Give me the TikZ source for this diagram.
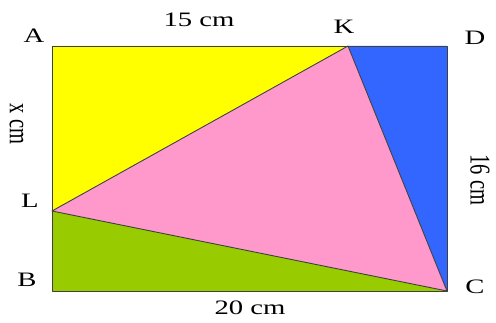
\documentclass[tikz,border=0pt]{standalone}
\usepackage{fontspec}
\setmainfont{Liberation Serif}
\definecolor{ryellow}{RGB}{255,255,0}
\definecolor{rblue}{RGB}{51,102,255}
\definecolor{rpink}{RGB}{255,153,204}
\definecolor{rgreen}{RGB}{153,204,0}
\begin{document}
\begin{tikzpicture}[x=1pt,y=1pt,
  lbl/.style={inner sep=0pt, font=\fontsize{20.5}{24}\selectfont},
  edge/.style={draw=black!75, line width=0.9pt, line join=round}]
\fill[white] (0,0) rectangle (496,322);
\useasboundingbox (0,0) rectangle (496,322);
% corners (y = 322 - pixel row)
\coordinate (A) at (52,276);
\coordinate (K) at (348,276);
\coordinate (D) at (447,276);
\coordinate (C) at (447,31);
\coordinate (B) at (52,31);
\coordinate (L) at (52,111);
% regions
\fill[ryellow] (A) -- (K) -- (L) -- cycle;
\fill[rblue] (K) -- (D) -- (C) -- cycle;
\fill[rpink] (L) -- (K) -- (C) -- cycle;
\fill[rgreen] (L) -- (C) -- (B) -- cycle;
% edges
\draw[edge] (A) -- (D) -- (C) -- (B) -- cycle;
\draw[edge] (L) -- (K) -- (C) -- cycle;
% labels
\node[lbl] (lA) at (34,286) {\scalebox{1.4}[1]{A}};
\node[lbl] (lK) at (344,295) {\scalebox{1.4}[1]{K}};
\node[lbl] (lD) at (475,284) {\scalebox{1.4}[1]{D}};
\node[lbl] (lL) at (30,121) {\scalebox{1.4}[1]{L}};
\node[lbl] (lB) at (27,42) {\scalebox{1.4}[1]{B}};
\node[lbl] (lC) at (475,35) {\scalebox{1.4}[1]{C}};
\node[lbl] (t15) at (199,302) {\scalebox{1.4}[1]{15 cm}};
\node[lbl] (t20) at (250,14) {\scalebox{1.4}[1]{20 cm}};
\node[lbl] (tx) at (16.5,198) {\scalebox{1.4}[1]{\rotatebox{-90}{x cm}}};
\node[lbl] (t16) at (480,142) {\scalebox{1.4}[1]{\rotatebox{-90}{16 cm}}};
\end{tikzpicture}
\end{document}
